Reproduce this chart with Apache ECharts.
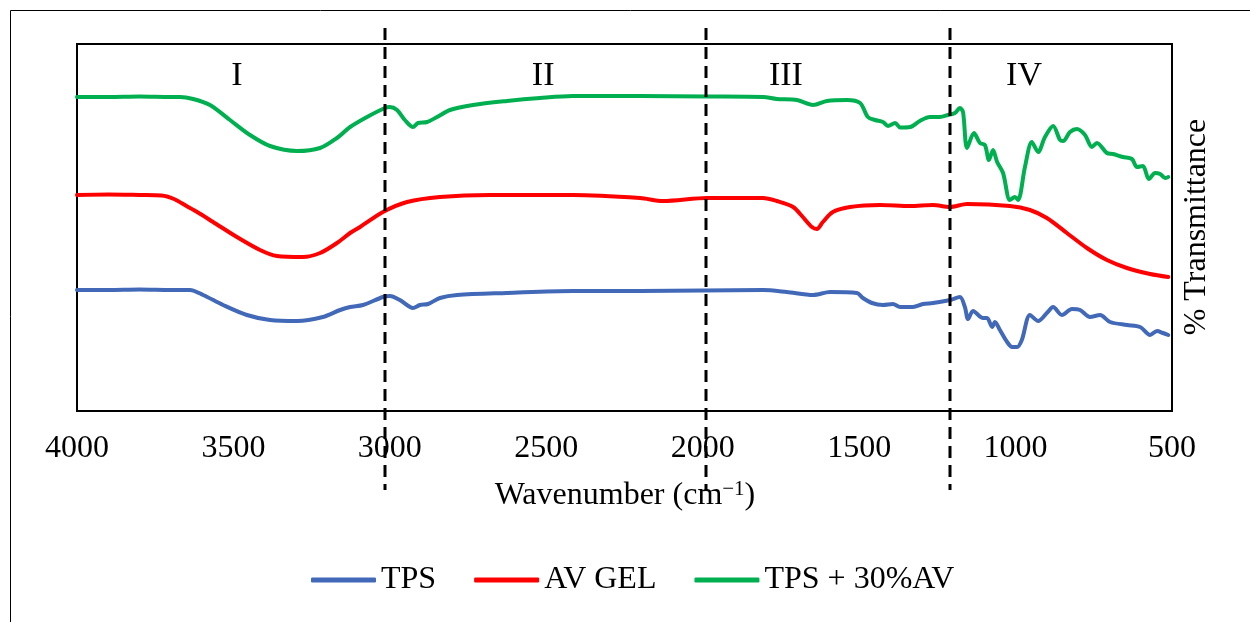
<!DOCTYPE html>
<html><head><meta charset="utf-8">
<script src="https://cdn.jsdelivr.net/npm/echarts@6/dist/echarts.min.js"></script>
<style>html,body{margin:0;padding:0;background:#fff}#c{width:1250px;height:622px}</style>
</head><body><div id="c"></div>
<script>
// x: wavenumber (cm-1), y: transmittance (arbitrary units, curves offset)
const xTicks = [4000, 3500, 3000, 2500, 2000, 1500, 1000, 500];
const seriesNames = ['TPS', 'AV GEL', 'TPS + 30%AV'];
const seriesColors = ['#4169B8', '#FF0000', '#00B050'];
const tps = [[4000,121],[3900,121],[3800,121.5],[3700,121],[3639,121],[3597,116],[3533,106],[3457,96],[3383,91],[3297,90],[3214,94],[3159,101],[3127,104],[3086,106],[3022,114],[3000,115],[2968,111],[2926,103],[2904,106],[2878,107],[2840,113],[2785,116],[2626,118],[2415,120],[2200,120],[2000,120.5],[1807,121],[1731,119],[1647,116],[1593,119],[1507,118],[1488,113],[1459,108],[1424,106],[1392,107],[1369,104],[1328,104],[1296,107],[1264,108],[1210,111],[1178,114],[1162,104],[1152,92],[1136,100],[1104,93],[1091,93],[1075,84],[1066,89],[1050,81],[1027,69],[1011,64],[995,64],[980,71],[954,96],[928,90],[900,98],[880,104],[852,96],[820,102],[794,101],[762,94],[730,96],[698,89],[644,86],[602,84],[570,76],[548,80],[529,78],[512,76]];
const avGel = [[4000,216],[3900,216.5],[3800,216],[3730,215.5],[3690,212],[3650,205],[3616,199],[3565,189],[3489,174],[3415,161],[3361,155],[3278,154],[3223,158],[3169,168],[3127,178],[3095,184],[3022,199],[2945,209],[2840,214],[2680,216],[2415,216],[2200,213],[2127,210],[1986,213],[1807,213],[1763,210],[1711,204],[1680,194],[1651,184],[1635,182],[1616,189],[1584,199],[1529,204],[1433,206],[1337,205],[1264,206],[1210,204],[1155,207],[1018,205],[954,201],[900,193],[836,178],[772,163],[708,151],[644,143],[570,137],[512,134]];
const tpsAv = [[4000,314],[3900,314],[3800,314.5],[3700,314],[3671,314],[3629,312],[3575,306],[3511,291],[3447,276],[3383,265],[3297,260],[3223,263],[3169,273],[3127,284],[3073,294],[3016,303],[3000,304],[2977,301],[2952,291],[2926,284],[2910,288],[2881,289],[2849,294],[2808,301],[2734,306],[2626,310],[2520,313],[2415,315],[2200,315],[1986,314.5],[1807,314],[1763,312],[1699,311],[1647,306],[1603,310],[1539,311],[1497,308],[1472,294],[1449,291],[1424,289],[1408,285],[1385,288],[1369,283.5],[1337,284],[1306,290],[1274,294],[1242,294],[1216,296],[1194,298],[1178,303],[1168,299],[1155,263],[1133,278],[1114,268],[1098,266],[1085,251],[1072,261],[1059,249],[1040,238],[1018,211],[1002,214],[992,211],[970,244],[948,269],[928,259],[906,274],[880,285],[858,271],[848,270],[826,279],[804,282],[778,276],[756,264],[740,268],[708,258],[689,257],[657,254],[628,252],[612,244],[593,245],[574,232],[554,238],[538,237],[522,233],[512,234]];
const regionLabels = ['I', 'II', 'III', 'IV'];
const regionLabelX = [3489, 2510, 1734, 973];
const regionBounds = [3015, 1990, 1210];

const FONT = "'Liberation Serif','Times New Roman',serif";
const chart = echarts.init(document.getElementById('c'), null, {renderer: 'canvas'});
const dataSets = [tps, avGel, tpsAv];
chart.setOption({
  animation: false,
  backgroundColor: '#fff',
  grid: {left: 77, right: 78, top: 44, bottom: 211, show: true, borderColor: '#000', borderWidth: 2, backgroundColor: 'transparent'},
  xAxis: {
    type: 'value', inverse: true, min: 500, max: 4000, interval: 500,
    axisLine: {show: false}, axisTick: {show: false}, splitLine: {show: false},
    axisLabel: {margin: 22, fontSize: 32, fontFamily: FONT, color: '#000', showMinLabel: true, showMaxLabel: true,
      formatter: v => xTicks.includes(v) ? String(v) : ''}
  },
  yAxis: {type: 'value', min: 0, max: 367, show: false},
  legend: {
    left: 306, top: 559, itemWidth: 65, itemHeight: 5, itemGap: 38, icon: 'roundRect',
    textStyle: {fontSize: 32, fontFamily: FONT, color: '#000'},
    data: seriesNames
  },
  series: dataSets.map((d, i) => ({
    name: seriesNames[i], type: 'line', data: d, symbol: 'none', smooth: 0.3,
    lineStyle: {width: 4, color: seriesColors[i], cap: 'round', join: 'round'},
    itemStyle: {color: seriesColors[i], borderRadius: 3}
  }))
});

const px = w => chart.convertToPixel({xAxisIndex: 0}, w);
const graphics = [
  {type: 'rect', shape: {x: 10.5, y: 10.5, width: 1260, height: 640}, style: {fill: 'none', stroke: '#000', lineWidth: 1}, z: 100}
];
regionBounds.forEach(w => {
  const x = Math.round(px(w));
  graphics.push({type: 'line', shape: {x1: x, y1: 28, x2: x, y2: 490}, style: {stroke: '#000', lineWidth: 3, lineDash: [12, 7]}, z: 100});
});
regionLabels.forEach((t, i) => {
  graphics.push({type: 'text', x: px(regionLabelX[i]), y: 76, style: {text: t, fontSize: 34, fontFamily: FONT, fill: '#000', align: 'center', verticalAlign: 'middle'}, z: 100});
});
graphics.push({type: 'text', x: 625, y: 496, style: {text: 'Wavenumber (cm{sup|−1})', fontSize: 32, fontFamily: FONT, fill: '#000', align: 'center', verticalAlign: 'middle',
  rich: {sup: {fontSize: 21, fontFamily: FONT, fill: '#000', padding: [0, 0, 14, 0]}}}, z: 100});
graphics.push({type: 'text', x: 1197, y: 227, rotation: Math.PI / 2, style: {text: '% Transmittance', fontSize: 32, fontFamily: FONT, fill: '#000', align: 'center', verticalAlign: 'middle'}, z: 100});
chart.setOption({graphic: graphics});
</script>
</body></html>
